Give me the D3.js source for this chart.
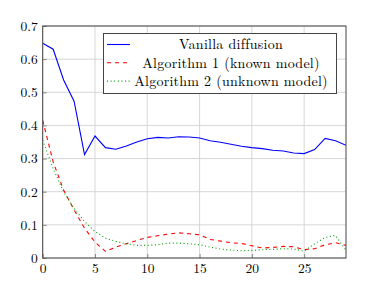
<!DOCTYPE html>
<html>
<head>
<meta charset="utf-8">
<script src="https://cdn.jsdelivr.net/npm/d3@7"></script>
<style>
  body { margin: 0; background: #fff; }
  svg { display: block; }
</style>
</head>
<body>
<div id="chart"></div>
<script>
// data
const steps = d3.range(0, 30);
const vanilla = [0.648, 0.630, 0.537, 0.473, 0.312, 0.368, 0.333, 0.328, 0.338, 0.350,
                 0.360, 0.364, 0.362, 0.366, 0.365, 0.362, 0.354, 0.349, 0.343, 0.337,
                 0.333, 0.330, 0.325, 0.323, 0.317, 0.315, 0.327, 0.361, 0.354, 0.340];
const alg1 = [0.415, 0.290, 0.205, 0.145, 0.090, 0.048, 0.020, 0.033, 0.043, 0.053,
              0.062, 0.067, 0.072, 0.076, 0.073, 0.070, 0.056, 0.051, 0.046, 0.044,
              0.037, 0.030, 0.032, 0.035, 0.034, 0.025, 0.028, 0.040, 0.046, 0.038];
const alg2 = [0.355, 0.270, 0.200, 0.150, 0.110, 0.080, 0.060, 0.050, 0.043, 0.038,
              0.038, 0.040, 0.045, 0.045, 0.043, 0.040, 0.033, 0.027, 0.024, 0.022,
              0.023, 0.025, 0.026, 0.028, 0.027, 0.021, 0.043, 0.062, 0.068, 0.023];
const seriesNames = ["Vanilla diffusion", "Algorithm 1 (known model)", "Algorithm 2 (unknown model)"];
const xTicks = [0, 5, 10, 15, 20, 25];
const yTicks = [0, 0.1, 0.2, 0.3, 0.4, 0.5, 0.6, 0.7];

const width = 365, height = 293;
const margin = { top: 26, right: 19, bottom: 35, left: 42.7 };
const font = "'Latin Modern Roman', 'Liberation Serif', serif";

const svg = d3.select("#chart").append("svg")
    .attr("width", width)
    .attr("height", height);

const x = d3.scaleLinear().domain([0, 29]).range([margin.left, width - margin.right]);
const y = d3.scaleLinear().domain([0, 0.7]).range([height - margin.bottom, margin.top]);

// grid
svg.append("g").selectAll("line").data(xTicks).enter().append("line")
    .attr("x1", d => x(d)).attr("x2", d => x(d))
    .attr("y1", y(0)).attr("y2", y(0.7))
    .attr("stroke", "#d6d6d6").attr("stroke-width", 1);
svg.append("g").selectAll("line").data(yTicks).enter().append("line")
    .attr("x1", x(0)).attr("x2", x(29))
    .attr("y1", d => y(d)).attr("y2", d => y(d))
    .attr("stroke", "#d6d6d6").attr("stroke-width", 1);

// series
const line = data => d3.line()
    .x((d, i) => x(steps[i]))
    .y(d => y(d))(data);

const styles = [
    { data: vanilla, color: "#0000ff", dash: null },
    { data: alg1, color: "#ff0000", dash: "4,4" },
    { data: alg2, color: "#00a000", dash: "1,2.6" }
];

svg.append("clipPath").attr("id", "clip").append("rect")
    .attr("x", x(0)).attr("y", y(0.7))
    .attr("width", x(29) - x(0)).attr("height", y(0) - y(0.7));

styles.forEach(s => {
    svg.append("path")
        .attr("clip-path", "url(#clip)")
        .attr("d", line(s.data))
        .attr("fill", "none")
        .attr("stroke", s.color)
        .attr("stroke-width", 1.1)
        .attr("stroke-dasharray", s.dash);
});

// axes
const xAxis = svg.append("g")
    .attr("transform", `translate(0,${y(0)})`)
    .call(d3.axisBottom(x).tickValues(xTicks).tickSize(-4).tickPadding(5));
const yAxis = svg.append("g")
    .attr("transform", `translate(${x(0)},0)`)
    .call(d3.axisLeft(y).tickValues(yTicks).tickSize(-4).tickPadding(5).tickFormat(d => d === 0 ? "0" : d3.format(".1f")(d)));
[xAxis, yAxis].forEach(a => {
    a.select(".domain").remove();
    a.selectAll("line").attr("stroke", "#888");
    a.selectAll("text").attr("font-family", font).attr("font-size", 13.5).attr("fill", "#000");
});

// frame
svg.append("rect")
    .attr("x", x(0)).attr("y", y(0.7))
    .attr("width", x(29) - x(0)).attr("height", y(0) - y(0.7))
    .attr("fill", "none").attr("stroke", "#444").attr("stroke-width", 1);

// legend
const legend = svg.append("g");
legend.append("rect")
    .attr("x", 103.5).attr("y", 33.5).attr("width", 233).attr("height", 60)
    .attr("fill", "#fff").attr("stroke", "#444").attr("stroke-width", 1);
styles.forEach((s, i) => {
    const ly = 44.5 + i * 18.3;
    legend.append("line")
        .attr("x1", 107).attr("x2", 130).attr("y1", ly).attr("y2", ly)
        .attr("stroke", s.color).attr("stroke-width", 1.1)
        .attr("stroke-dasharray", s.dash);
    legend.append("text")
        .attr("x", 231).attr("y", ly)
        .attr("dy", "0.35em")
        .attr("text-anchor", "middle")
        .attr("font-family", font).attr("font-size", 14)
        .attr("letter-spacing", 0.25)
        .text(seriesNames[i]);
});
</script>
</body>
</html>
